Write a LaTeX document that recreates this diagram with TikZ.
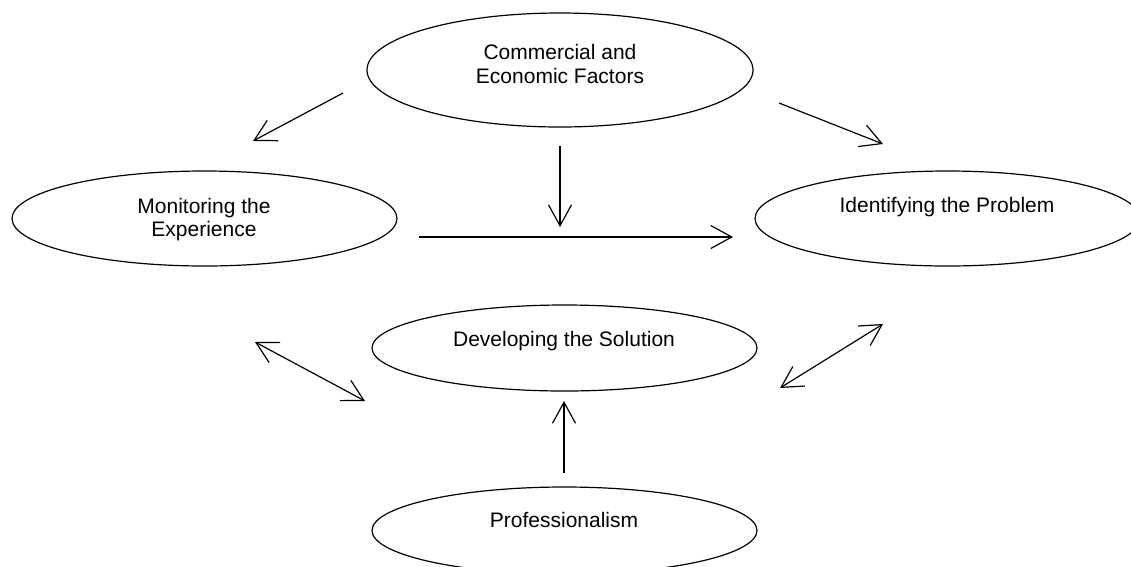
\documentclass[tikz,border=0pt]{standalone}
\usepackage{fontspec}
\setmainfont{Liberation Sans}
\usetikzlibrary{shapes.geometric,arrows.meta}
\begin{document}
\begin{tikzpicture}[x=1pt,y=-1pt,
  oval/.style={draw=black,line width=1.2pt,ellipse,inner sep=0pt,minimum width=385pt},
  caption/.style={anchor=base,align=center,inner sep=0pt,font=\fontsize{21}{23.5}\selectfont},
  flow/.style={line width=1.2pt,-{Straight Barb[length=21pt,width=23pt,line width=1.2pt]}},
  twoway/.style={line width=1.2pt,{Straight Barb[length=21pt,width=23pt,line width=1.2pt]}-{Straight Barb[length=21pt,width=23pt,line width=1.2pt]}}]
\useasboundingbox (0,0) rectangle (1131,566);

% ovals
\node[oval,minimum width=386pt,minimum height=114pt] (comm) at (560,70) {};
\node[oval,minimum height=95pt] (mon) at (204.5,218.5) {};
\node[oval,minimum height=95pt] (ident) at (947.5,218.5) {};
\node[oval,minimum height=86pt] (dev) at (564.5,348) {};
\node[oval,minimum height=87pt] (prof) at (564.5,530.5) {};

% captions (anchored on the baseline of their last line)
\node[caption] (commtxt) at (560,83) {Commercial and\\Economic Factors};
\node[caption] (montxt) at (204,236.5) {Monitoring the\\Experience};
\node[caption] (identtxt) at (947,212) {Identifying the Problem};
\node[caption] (devtxt) at (564,346) {Developing the Solution};
\node[caption] (proftxt) at (564,527) {Professionalism};

% arrow end points
\coordinate (a1s) at (343,93);   \coordinate (a1e) at (253,141);
\coordinate (a2s) at (779,103);  \coordinate (a2e) at (883,144);
\coordinate (a3s) at (560,146);  \coordinate (a3e) at (560,227);
\coordinate (a4s) at (419,237);  \coordinate (a4e) at (733,237);
\coordinate (a5s) at (255,342);  \coordinate (a5e) at (365,401);
\coordinate (a6s) at (883,324);  \coordinate (a6e) at (780,388);
\coordinate (a7s) at (564,473);  \coordinate (a7e) at (564,401);

% arrows
\draw[flow] (a1s) -- (a1e);
\draw[flow] (a2s) -- (a2e);
\draw[flow] (a3s) -- (a3e);
\draw[flow] (a4s) -- (a4e);
\draw[twoway] (a5s) -- (a5e);
\draw[twoway] (a6s) -- (a6e);
\draw[flow] (a7s) -- (a7e);
\end{tikzpicture}
\end{document}
